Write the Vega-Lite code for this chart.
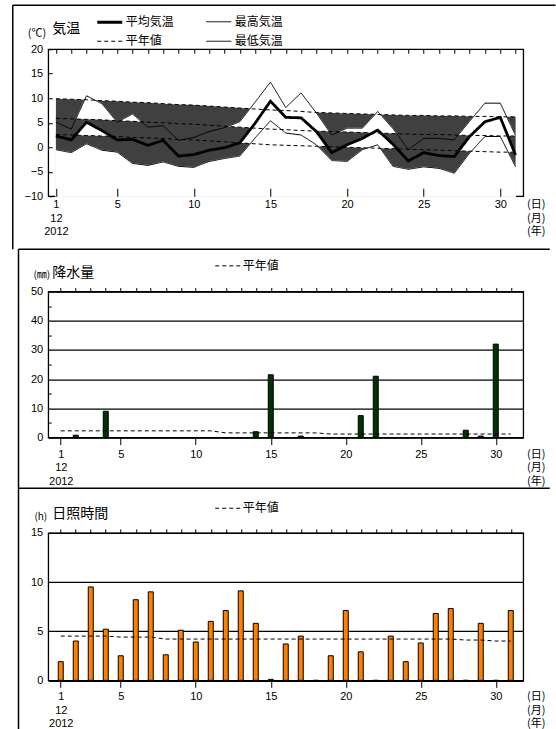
{
  "$schema": "https://vega.github.io/schema/vega-lite/v6.json",
  "padding": {"left": 11.25, "top": 3.25, "right": 0, "bottom": 0},
  "background": "white",
  "bounds": "flush",
  "spacing": 95.3,
  "config": {
    "view": {"stroke": "black", "strokeWidth": 1.3},
    "font": "Liberation Sans, Noto Sans CJK JP",
    "axis": {"labelFont": "Liberation Sans, Noto Sans CJK JP", "labelFontSize": 11, "labelColor": "black", "tickColor": "black", "domain": false, "grid": false, "labelFlush": false, "labelOverlap": false, "titleColor": "black", "titleFontWeight": "normal", "titleFont": "Noto Sans CJK JP", "titleAngle": 0},
    "legend": {"labelFont": "Noto Sans CJK JP", "labelFontSize": 12, "labelColor": "black", "padding": 0}
  },
  "datasets": {
    "temp": [
      {"day": 1, "max": 5.1, "mean": 2.3, "min": -0.5, "nmax": 9.9, "nmean": 5.9, "nmin": 2.6},
      {"day": 2, "max": 3.7, "mean": 1.5, "min": -1.1, "nmax": 9.8, "nmean": 5.8, "nmin": 2.5},
      {"day": 3, "max": 10.5, "mean": 5.1, "min": 0.7, "nmax": 9.7, "nmean": 5.7, "nmin": 2.4},
      {"day": 4, "max": 8.9, "mean": 3.4, "min": -0.6, "nmax": 9.5, "nmean": 5.6, "nmin": 2.3},
      {"day": 5, "max": 5.1, "mean": 1.5, "min": -1.0, "nmax": 9.4, "nmean": 5.4, "nmin": 2.2},
      {"day": 6, "max": 6.8, "mean": 1.6, "min": -3.3, "nmax": 9.2, "nmean": 5.3, "nmin": 2.0},
      {"day": 7, "max": 4.1, "mean": 0.4, "min": -3.7, "nmax": 9.1, "nmean": 5.1, "nmin": 1.9},
      {"day": 8, "max": 4.4, "mean": 1.4, "min": -3.0, "nmax": 8.9, "nmean": 5.0, "nmin": 1.8},
      {"day": 9, "max": 1.4, "mean": -1.8, "min": -3.9, "nmax": 8.7, "nmean": 4.8, "nmin": 1.6},
      {"day": 10, "max": 2.0, "mean": -1.5, "min": -4.1, "nmax": 8.6, "nmean": 4.7, "nmin": 1.5},
      {"day": 11, "max": 3.2, "mean": -0.6, "min": -2.9, "nmax": 8.4, "nmean": 4.5, "nmin": 1.3},
      {"day": 12, "max": 4.0, "mean": -0.1, "min": -2.3, "nmax": 8.2, "nmean": 4.3, "nmin": 1.1},
      {"day": 13, "max": 5.2, "mean": 0.9, "min": -1.8, "nmax": 8.0, "nmean": 4.1, "nmin": 0.9},
      {"day": 14, "max": 9.2, "mean": 4.9, "min": 1.9, "nmax": 7.8, "nmean": 3.9, "nmin": 0.7},
      {"day": 15, "max": 13.3, "mean": 9.4, "min": 5.4, "nmax": 7.6, "nmean": 3.7, "nmin": 0.5},
      {"day": 16, "max": 8.1, "mean": 6.1, "min": 2.9, "nmax": 7.5, "nmean": 3.6, "nmin": 0.4},
      {"day": 17, "max": 11.1, "mean": 6.0, "min": 2.5, "nmax": 7.3, "nmean": 3.4, "nmin": 0.3},
      {"day": 18, "max": 7.0, "mean": 3.2, "min": 0.5, "nmax": 7.1, "nmean": 3.3, "nmin": 0.2},
      {"day": 19, "max": 2.5, "mean": -1.1, "min": -2.7, "nmax": 7.0, "nmean": 3.2, "nmin": 0.1},
      {"day": 20, "max": 3.9, "mean": 0.5, "min": -2.9, "nmax": 6.9, "nmean": 3.1, "nmin": 0.0},
      {"day": 21, "max": 3.9, "mean": 1.8, "min": -0.5, "nmax": 6.8, "nmean": 3.0, "nmin": -0.1},
      {"day": 22, "max": 7.3, "mean": 3.5, "min": 0.5, "nmax": 6.7, "nmean": 2.9, "nmin": -0.2},
      {"day": 23, "max": 3.8, "mean": 0.6, "min": -3.9, "nmax": 6.6, "nmean": 2.8, "nmin": -0.3},
      {"day": 24, "max": -0.5, "mean": -2.8, "min": -4.5, "nmax": 6.5, "nmean": 2.7, "nmin": -0.4},
      {"day": 25, "max": 1.8, "mean": -1.1, "min": -4.0, "nmax": 6.5, "nmean": 2.6, "nmin": -0.5},
      {"day": 26, "max": 1.8, "mean": -1.7, "min": -4.3, "nmax": 6.4, "nmean": 2.6, "nmin": -0.6},
      {"day": 27, "max": 1.5, "mean": -1.9, "min": -5.3, "nmax": 6.4, "nmean": 2.5, "nmin": -0.7},
      {"day": 28, "max": 5.3, "mean": 2.2, "min": -1.2, "nmax": 6.3, "nmean": 2.4, "nmin": -0.8},
      {"day": 29, "max": 9.0, "mean": 5.2, "min": 2.2, "nmax": 6.3, "nmean": 2.4, "nmin": -0.9},
      {"day": 30, "max": 9.0, "mean": 6.1, "min": 2.2, "nmax": 6.2, "nmean": 2.3, "nmin": -1.0},
      {"day": 31, "max": 2.4, "mean": -1.6, "min": -4.0, "nmax": 6.2, "nmean": 2.3, "nmin": -1.0}
    ],
    "rain": [
      {"day": 1, "precip": 0, "normal": 2.3}, {"day": 2, "precip": 0.8, "normal": 2.3},
      {"day": 3, "precip": 0, "normal": 2.3}, {"day": 4, "precip": 9.0, "normal": 2.3},
      {"day": 5, "precip": 0, "normal": 2.3}, {"day": 6, "precip": 0, "normal": 2.3},
      {"day": 7, "precip": 0, "normal": 2.3}, {"day": 8, "precip": 0, "normal": 2.3},
      {"day": 9, "precip": 0, "normal": 2.3}, {"day": 10, "precip": 0, "normal": 2.3},
      {"day": 11, "precip": 0, "normal": 2.3}, {"day": 12, "precip": 0, "normal": 1.6},
      {"day": 13, "precip": 0, "normal": 1.6}, {"day": 14, "precip": 2.0, "normal": 1.6},
      {"day": 15, "precip": 21.5, "normal": 1.6}, {"day": 16, "precip": 0, "normal": 1.6},
      {"day": 17, "precip": 0.5, "normal": 1.6}, {"day": 18, "precip": 0, "normal": 1.6},
      {"day": 19, "precip": 0, "normal": 1.2}, {"day": 20, "precip": 0, "normal": 1.2},
      {"day": 21, "precip": 7.5, "normal": 1.2}, {"day": 22, "precip": 21.0, "normal": 1.2},
      {"day": 23, "precip": 0, "normal": 1.2}, {"day": 24, "precip": 0, "normal": 1.2},
      {"day": 25, "precip": 0, "normal": 1.2}, {"day": 26, "precip": 0, "normal": 1.2},
      {"day": 27, "precip": 0, "normal": 1.2}, {"day": 28, "precip": 2.5, "normal": 1.2},
      {"day": 29, "precip": 0.5, "normal": 1.2}, {"day": 30, "precip": 32.0, "normal": 1.2},
      {"day": 31, "precip": 0, "normal": 1.2}
    ],
    "sun": [
      {"day": 1, "sun": 1.9, "normal": 4.5}, {"day": 2, "sun": 4.0, "normal": 4.5},
      {"day": 3, "sun": 9.5, "normal": 4.5}, {"day": 4, "sun": 5.2, "normal": 4.5},
      {"day": 5, "sun": 2.5, "normal": 4.4}, {"day": 6, "sun": 8.2, "normal": 4.4},
      {"day": 7, "sun": 9.0, "normal": 4.4}, {"day": 8, "sun": 2.6, "normal": 4.2},
      {"day": 9, "sun": 5.1, "normal": 4.2}, {"day": 10, "sun": 3.9, "normal": 4.2},
      {"day": 11, "sun": 6.0, "normal": 4.2}, {"day": 12, "sun": 7.1, "normal": 4.2},
      {"day": 13, "sun": 9.1, "normal": 4.2}, {"day": 14, "sun": 5.8, "normal": 4.2},
      {"day": 15, "sun": 0.1, "normal": 4.2}, {"day": 16, "sun": 3.7, "normal": 4.2},
      {"day": 17, "sun": 4.5, "normal": 4.2}, {"day": 18, "sun": 0, "normal": 4.2},
      {"day": 19, "sun": 2.5, "normal": 4.2}, {"day": 20, "sun": 7.1, "normal": 4.2},
      {"day": 21, "sun": 2.9, "normal": 4.2}, {"day": 22, "sun": 0, "normal": 4.2},
      {"day": 23, "sun": 4.5, "normal": 4.2}, {"day": 24, "sun": 1.9, "normal": 4.2},
      {"day": 25, "sun": 3.8, "normal": 4.2}, {"day": 26, "sun": 6.8, "normal": 4.2},
      {"day": 27, "sun": 7.3, "normal": 4.2}, {"day": 28, "sun": 0, "normal": 4.1},
      {"day": 29, "sun": 5.8, "normal": 4.1}, {"day": 30, "sun": 0, "normal": 4.0},
      {"day": 31, "sun": 7.1, "normal": 4.0}
    ]
  },
  "vconcat": [
    {
      "width": 475, "height": 147,
      "data": {"name": "temp"},
      "resolve": {"axis": {"x": "independent", "y": "independent"}},
      "layer": [
        {"mark": {"type": "area", "color": "#404040", "opacity": 1},
         "encoding": {
           "x": {"field": "day", "type": "quantitative", "scale": {"domain": [0.5, 31.5], "nice": false, "zero": false},
                 "axis": {"values": [1, 5, 10, 15, 20, 25, 30], "tickSize": -8, "labelExpr": "datum.value == 1 ? ['1','12','2012'] : datum.label", "labelPadding": 10.5, "labelLineHeight": 13.5, "zindex": 1,
                          "title": ["(日)", "(月)", "(年)"], "titleX": 487.5, "titleY": 2.5, "titleAlign": "center", "titleBaseline": "top", "titleFontSize": 11, "titleLineHeight": 13.5}},
           "y": {"field": "nmax", "type": "quantitative", "scale": {"domain": [-10, 20], "nice": false, "zero": false},
                 "axis": {"orient": "left", "values": [-10, -5, 0, 5, 10, 15, 20], "tickSize": -4, "labelPadding": 9.5, "zindex": 1,
                          "title": "気温", "titleX": 3.5, "titleY": -16.4, "titleAlign": "left", "titleBaseline": "alphabetic", "titleFontSize": 14}},
           "y2": {"datum": -10}
         }},
        {"mark": {"type": "area", "color": "white", "opacity": 1, "stroke": "white", "strokeWidth": 1},
         "encoding": {
           "x": {"field": "day", "type": "quantitative", "axis": {"values": [1,2,3,4,5,6,7,8,9,10,11,12,13,14,15,16,17,18,19,20,21,22,23,24,25,26,27,28,29,30,31], "tickSize": -4, "labels": false, "title": null, "zindex": 1}},
           "y": {"field": "max", "type": "quantitative", "axis": {"orient": "left", "labels": false, "ticks": false, "zindex": 1, "title": "(℃)", "titleX": -2.5, "titleY": -16, "titleAlign": "right", "titleBaseline": "middle", "titleFontSize": 11}},
           "y2": {"datum": -10}
         }},
        {"mark": {"type": "area", "color": "#404040", "opacity": 1},
         "encoding": {
           "x": {"field": "day", "type": "quantitative", "axis": null},
           "y": {"field": "nmean", "type": "quantitative", "axis": null},
           "y2": {"datum": -10}
         }},
        {"mark": {"type": "area", "color": "white", "opacity": 1, "stroke": "white", "strokeWidth": 1},
         "encoding": {
           "x": {"field": "day", "type": "quantitative", "axis": null},
           "y": {"field": "mean", "type": "quantitative", "axis": null},
           "y2": {"datum": -10}
         }},
        {"mark": {"type": "area", "color": "#404040", "opacity": 1},
         "encoding": {
           "x": {"field": "day", "type": "quantitative", "axis": null},
           "y": {"field": "nmin", "type": "quantitative", "axis": null},
           "y2": {"datum": -10}
         }},
        {"mark": {"type": "area", "color": "white", "opacity": 1, "stroke": "white", "strokeWidth": 1},
         "encoding": {
           "x": {"field": "day", "type": "quantitative", "axis": null},
           "y": {"field": "min", "type": "quantitative", "axis": null},
           "y2": {"datum": -10}
         }},
        {"transform": [{"fold": ["mean", "max", "min", "nmax", "nmean", "nmin"], "as": ["key", "value"]}],
         "mark": {"type": "line", "color": "black"},
         "encoding": {
           "x": {"field": "day", "type": "quantitative", "axis": null},
           "y": {"field": "value", "type": "quantitative", "axis": null},
           "detail": {"field": "key", "type": "nominal"},
           "strokeDash": {"field": "key", "type": "nominal",
             "scale": {"domain": ["mean", "max", "nmean", "min", "nmax", "nmin"], "range": [[1, 0], [1, 0], [4, 3], [1, 0], [4, 3], [4, 3]]},
             "legend": {"orient": "none", "legendX": 47.5, "legendY": -41, "columns": 2, "values": ["mean", "nmean", "max", "min"], "labelExpr": "datum.value == 'mean' ? '平均気温' : datum.value == 'max' ? '最高気温' : datum.value == 'nmean' ? '平年値' : '最低気温'", "title": null, "symbolType": "stroke", "symbolSize": 625, "symbolStrokeColor": "black", "columnPadding": 29, "rowPadding": -3, "labelOffset": 2, "symbolOffset": 0}},
           "strokeWidth": {"field": "key", "type": "nominal",
             "scale": {"type": "ordinal", "domain": ["mean", "max", "nmean", "min", "nmax", "nmin"], "range": [2.8, 1, 1, 1, 1, 1]},
             "legend": {"orient": "none", "legendX": 47.5, "legendY": -41, "columns": 2, "values": ["mean", "nmean", "max", "min"], "labelExpr": "datum.value == 'mean' ? '平均気温' : datum.value == 'max' ? '最高気温' : datum.value == 'nmean' ? '平年値' : '最低気温'", "title": null, "symbolType": "stroke", "symbolSize": 625, "symbolStrokeColor": "black", "columnPadding": 29, "rowPadding": -3, "labelOffset": 2, "symbolOffset": 0}}
         }},
        {"data": {"values": [{}]},
         "mark": {"type": "rule", "color": "black", "strokeWidth": 1.5},
         "encoding": {"x": {"datum": -1.817, "axis": null}, "x2": {"datum": 33.6}, "y": {"datum": 28.98, "axis": null}}},
        {"data": {"values": [{}]},
         "mark": {"type": "rule", "color": "black", "strokeWidth": 1.5},
         "encoding": {"x": {"datum": -1.817, "axis": null}, "y": {"datum": 28.98, "axis": null}, "y2": {"datum": -20.82}}}
      ]
    },
    {
      "width": 475, "height": 146,
      "data": {"name": "rain"},
      "resolve": {"axis": {"x": "independent", "y": "independent"}},
      "layer": [
        {"mark": {"type": "bar", "size": 5, "fill": "#003300", "stroke": "black", "strokeWidth": 1, "opacity": 1},
         "encoding": {
           "x": {"field": "day", "type": "quantitative", "scale": {"domain": [0.5, 31.5], "nice": false, "zero": false},
                 "axis": {"values": [1, 5, 10, 15, 20, 25, 30], "tickSize": 7, "labelExpr": "datum.value == 1 ? ['1','12','2012'] : datum.label", "labelPadding": 3.5, "labelLineHeight": 13.5, "zindex": 1,
                          "title": ["(日)", "(月)", "(年)"], "titleX": 487.5, "titleY": 10.5, "titleAlign": "center", "titleBaseline": "top", "titleFontSize": 11, "titleLineHeight": 13.5}},
           "y": {"field": "precip", "type": "quantitative", "scale": {"domain": [0, 50], "nice": false},
                 "axis": {"orient": "left", "values": [0, 10, 20, 30, 40, 50], "grid": true, "gridColor": "black", "gridWidth": 1.2, "tickSize": 0, "labelPadding": 5.5, "zindex": 0,
                          "title": "降水量", "titleX": 3.5, "titleY": -14.7, "titleAlign": "left", "titleBaseline": "alphabetic", "titleFontSize": 14}}
         }},
        {"mark": {"type": "line", "color": "black", "strokeWidth": 1},
         "encoding": {
           "x": {"field": "day", "type": "quantitative", "axis": {"values": [1,2,3,4,5,6,7,8,9,10,11,12,13,14,15,16,17,18,19,20,21,22,23,24,25,26,27,28,29,30,31], "tickSize": 4, "labels": false, "title": null, "zindex": 1}},
           "y": {"field": "normal", "type": "quantitative", "axis": {"orient": "left", "values": [5, 15, 25, 35, 45], "tickSize": -3, "labels": false, "grid": false, "zindex": 1,
                          "title": "(㎜)", "titleX": 1.5, "titleY": -16.8, "titleAlign": "right", "titleBaseline": "middle", "titleFontSize": 10}},
           "strokeDash": {"datum": "平年値", "scale": {"range": [[4, 3]]},
             "legend": {"orient": "none", "legendX": 166.5, "legendY": -38.7, "title": null, "symbolType": "stroke", "symbolSize": 625, "symbolStrokeColor": "black", "symbolStrokeWidth": 1, "labelOffset": 2, "symbolOffset": 0}}
         }},
        {"data": {"values": [{}]},
         "mark": {"type": "rule", "color": "black", "strokeWidth": 1.5},
         "encoding": {"x": {"datum": -1.817, "axis": null}, "x2": {"datum": 33.6}, "y": {"datum": 64.49, "axis": null}}},
        {"data": {"values": [{}]},
         "mark": {"type": "rule", "color": "black", "strokeWidth": 1.5},
         "encoding": {"x": {"datum": -1.817, "axis": null}, "y": {"datum": 64.49, "axis": null}, "y2": {"datum": -17.36}}}
      ]
    },
    {
      "width": 475, "height": 147.5,
      "data": {"name": "sun"},
      "resolve": {"axis": {"x": "independent", "y": "independent"}},
      "layer": [
        {"mark": {"type": "bar", "size": 5, "fill": "#ff7f00", "stroke": "black", "strokeWidth": 1, "opacity": 1},
         "encoding": {
           "x": {"field": "day", "type": "quantitative", "scale": {"domain": [0.5, 31.5], "nice": false, "zero": false},
                 "axis": {"values": [1, 5, 10, 15, 20, 25, 30], "tickSize": 7, "labelExpr": "datum.value == 1 ? ['1','12','2012'] : datum.label", "labelPadding": 3.5, "labelLineHeight": 13.5, "zindex": 1,
                          "title": ["(日)", "(月)", "(年)"], "titleX": 487.5, "titleY": 10.5, "titleAlign": "center", "titleBaseline": "top", "titleFontSize": 11, "titleLineHeight": 13.5}},
           "y": {"field": "sun", "type": "quantitative", "scale": {"domain": [0, 15], "nice": false},
                 "axis": {"orient": "left", "values": [0, 5, 10, 15], "grid": true, "gridColor": "black", "gridWidth": 1.2, "tickSize": 0, "labelPadding": 5.5, "zindex": 0,
                          "title": "日照時間", "titleX": 3.5, "titleY": -15, "titleAlign": "left", "titleBaseline": "alphabetic", "titleFontSize": 14}}
         }},
        {"mark": {"type": "line", "color": "black", "strokeWidth": 1},
         "encoding": {
           "x": {"field": "day", "type": "quantitative", "axis": {"values": [1,2,3,4,5,6,7,8,9,10,11,12,13,14,15,16,17,18,19,20,21,22,23,24,25,26,27,28,29,30,31], "tickSize": 4, "labels": false, "title": null, "zindex": 1}},
           "y": {"field": "normal", "type": "quantitative", "axis": {"orient": "left", "labels": false, "ticks": false, "zindex": 1,
                          "title": "(h)", "titleX": -1.5, "titleY": -16.6, "titleAlign": "right", "titleBaseline": "middle", "titleFontSize": 10}},
           "strokeDash": {"datum": "平年値", "scale": {"range": [[4, 3]]},
             "legend": {"orient": "none", "legendX": 166.5, "legendY": -37.6, "title": null, "symbolType": "stroke", "symbolSize": 625, "symbolStrokeColor": "black", "symbolStrokeWidth": 1, "labelOffset": 2, "symbolOffset": 0}}
         }},
        {"data": {"values": [{}]},
         "mark": {"type": "rule", "color": "black", "strokeWidth": 1.5},
         "encoding": {"x": {"datum": -1.817, "axis": null}, "x2": {"datum": 33.6}, "y": {"datum": 19.54, "axis": null}}},
        {"data": {"values": [{}]},
         "mark": {"type": "rule", "color": "black", "strokeWidth": 1.5},
         "encoding": {"x": {"datum": -1.817, "axis": null}, "y": {"datum": 19.54, "axis": null}, "y2": {"datum": -4.95}}}
      ]
    }
  ],
  "resolve": {"scale": {"strokeDash": "independent", "strokeWidth": "independent"}, "legend": {"strokeDash": "independent", "strokeWidth": "independent"}}
}
